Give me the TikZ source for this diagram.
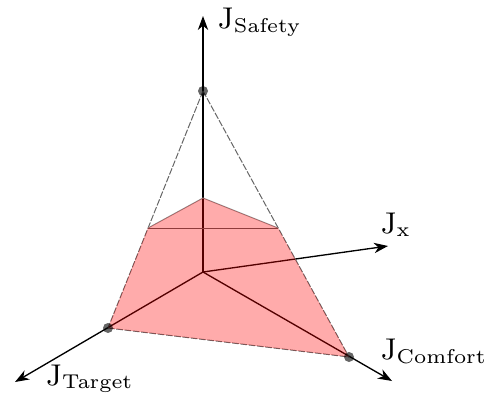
\documentclass[tikz,border=0pt]{standalone}
\usepackage{amsmath}
\usepackage{xcolor}
\usepackage{tikz}
\usetikzlibrary{arrows.meta,positioning}

\begin{document}
\begin{tikzpicture}[x=0.3pt, y=-0.3pt, >={Stealth[length=4.2pt,width=3.1pt,inset=1.3pt]},
  axis/.style={->, line width=0.4pt},
  edge/.style={black!60, dash pattern=on 2pt off 0.5pt, line width=0.3pt},
  rim/.style={black!45, line width=0.3pt},
  cut/.style={black!65, line width=0.3pt},
  dot/.style={circle, fill=black, fill opacity=0.6, inner sep=0pt, minimum size=3pt},
  lbl/.style={inner sep=1pt, font=\fontsize{9.2}{11}\selectfont}]
\useasboundingbox (0,0) rectangle (489,401);
% axis ends
\coordinate (O) at (203,272);
\coordinate (safetyTip) at (203,16);
\coordinate (xTip) at (388,246);
\coordinate (comfortTip) at (392,381);
\coordinate (targetTip) at (15,382);
% points on the axes
\coordinate (S) at (203,91);
\coordinate (T) at (108,328);
\coordinate (C) at (349,357);
\coordinate (peak) at (203,198);
\coordinate (cutL) at (148,228);
\coordinate (cutR) at (278,228);

\draw[axis] (O) -- (safetyTip);
\draw[axis] (O) -- (xTip);
\draw[axis] (O) -- (comfortTip);
\draw[axis] (O) -- (targetTip);

% pyramid
\draw[edge] (S) -- (T);
\draw[edge] (S) -- (C);
\draw[edge] (T) -- (C);
\draw[rim] (cutL) -- (peak) -- (cutR);
\draw[cut] (cutL) -- (cutR);
\fill[red, fill opacity=0.33] (T) -- (C) -- (cutR) -- (peak) -- (cutL) -- cycle;

\node[dot] (dotS) at (S) {};
\node[dot] (dotT) at (T) {};
\node[dot] (dotC) at (C) {};

% labels
\node[lbl] (lblSafety) at (260,22) {$\mathrm{J}_{\mathrm{Safety}}$};
\node[lbl] (lblX) at (396,225) {$\mathrm{J}_{\mathrm{x}}$};
\node[lbl] (lblComfort) at (434,351) {$\mathrm{J}_{\mathrm{Comfort}}$};
\node[lbl] (lblTarget) at (90,379) {$\mathrm{J}_{\mathrm{Target}}$};
\end{tikzpicture}
\end{document}
